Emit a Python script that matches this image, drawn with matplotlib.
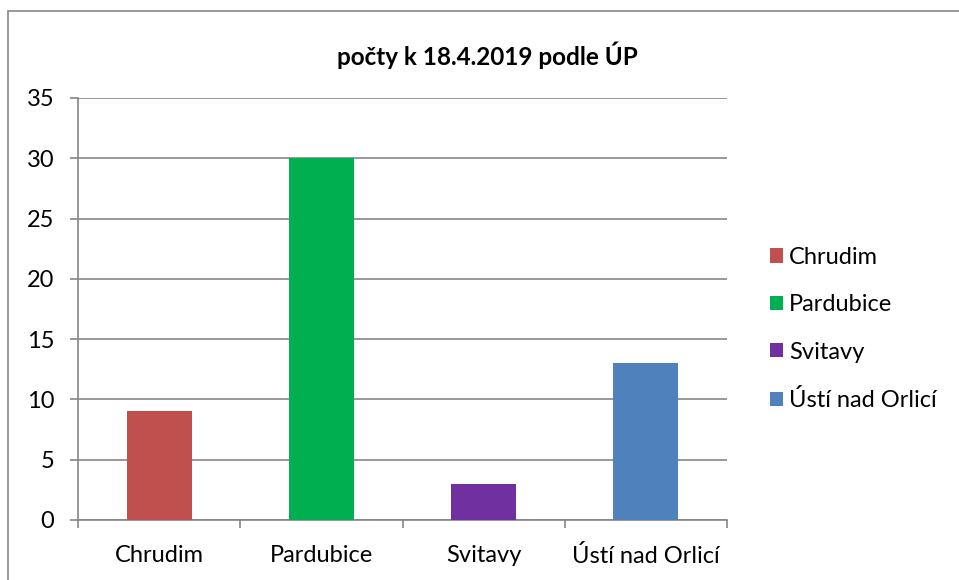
import matplotlib.pyplot as plt
from matplotlib.patches import Rectangle, Patch

# data
categories = ["Chrudim", "Pardubice", "Svitavy", "Ústí nad Orlicí"]
values = [9, 30, 3, 13]
colors = ["#C0504D", "#00B050", "#7030A0", "#4F81BD"]
title = "počty k 18.4.2019 podle ÚP"

plt.rcParams["font.family"] = ["Lato", "DejaVu Sans"]

fig = plt.figure(figsize=(9.59, 5.80), dpi=100)
ax = fig.add_axes([78 / 959, 1 - 520 / 580, 649 / 959, 422 / 580])

x = range(len(categories))
ax.bar(x, values, width=0.4, color=colors, zorder=3)

ax.set_xlim(-0.5, len(categories) - 0.5)
ax.set_ylim(0, 35)
ax.set_yticks(range(0, 36, 5))
ax.yaxis.grid(True, color="#868686", linewidth=1.2, zorder=0)

ax.set_xticks(list(x))
ax.set_xticklabels(categories, fontsize=17)
ax.tick_params(axis="x", length=0, pad=18)
ax.set_xticks([i - 0.5 for i in range(len(categories) + 1)], minor=True)
ax.tick_params(axis="x", which="minor", length=6, width=1.2, color="#868686", direction="out")
ax.tick_params(axis="y", labelsize=17, length=6, width=1.2, color="#868686", pad=11)

for s in ["top", "right"]:
    ax.spines[s].set_visible(False)
for s in ["left", "bottom"]:
    ax.spines[s].set_color("#868686")
    ax.spines[s].set_linewidth(1.2)

fig.text(487 / 959, 1 - 55 / 580, title, ha="center", va="center",
         fontsize=17.5, fontweight="bold")

handles = [Patch(facecolor=c, edgecolor="none") for c in colors]
fig.legend(handles, categories, loc="center left", bbox_to_anchor=(749 / 959, 1 - 329 / 580),
           frameon=False, fontsize=17, handlelength=0.55, handleheight=0.55,
           handletextpad=0.25, labelspacing=1.12)

# outer chart border
fig.patches.append(Rectangle((8 / 959, -0.1), 1.2, 1 - 11 / 580 + 0.1, transform=fig.transFigure,
                             fill=False, edgecolor="#868686", linewidth=1.2))

fig.savefig("out.png", dpi=100)
